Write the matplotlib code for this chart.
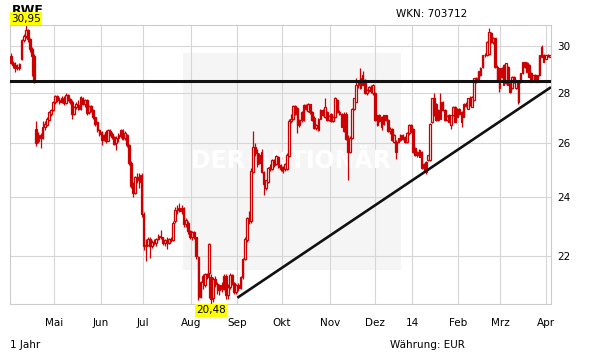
import numpy as np
import matplotlib
matplotlib.use("Agg")
import matplotlib.pyplot as plt
from matplotlib.patches import Rectangle
from matplotlib.ticker import FixedLocator, FixedFormatter, NullLocator

# --- RWE Tageskerzen, ca. Apr 2013 - Apr 2014 ---
opens = [
    29.55, 29.25, 29.15, 29.05, 29.05, 29.45, 30.25, 30.45, 30.70, 30.30,
    29.85, 29.55, 26.55, 26.05, 26.30, 26.20, 26.60, 26.70, 26.90, 27.15,
    27.30, 27.62, 27.85, 27.70, 27.62, 27.80, 27.58, 27.90, 27.75, 27.62,
    27.15, 27.40, 27.50, 27.35, 27.80, 27.55, 27.68, 27.20, 27.45, 27.30,
    27.00, 26.80, 26.50, 26.40, 26.12, 26.42, 26.08, 26.45, 26.35, 26.22,
    25.98, 26.20, 26.25, 26.48, 26.20, 26.30, 25.90, 25.25, 24.40, 24.15,
    24.70, 24.55, 24.80, 23.40, 22.30, 22.35, 22.55, 22.30, 22.45, 22.40,
    22.55, 22.65, 22.60, 22.40, 22.50, 22.40, 22.55, 22.50, 23.15, 23.55,
    23.62, 23.50, 23.62, 23.05, 23.10, 22.80, 22.62, 22.78, 22.60, 21.95,
    20.70, 21.15, 21.05, 21.40, 21.45, 21.30, 20.65, 21.25, 21.10, 20.90,
    21.05, 20.95, 21.35, 20.75, 21.00, 21.38, 21.12, 20.85, 21.05, 20.98,
    21.30, 21.88, 22.50, 23.25, 23.15, 24.90, 25.85, 25.60, 25.25, 25.65,
    24.90, 24.30, 24.55, 25.05, 25.00, 25.35, 25.20, 25.45, 25.15, 24.92,
    25.00, 25.00, 25.50, 26.85, 26.95, 27.45, 27.38, 26.70, 26.90, 26.90,
    27.48, 27.25, 27.52, 27.22, 26.98, 26.58, 26.50, 26.95, 27.28, 27.02,
    27.22, 26.90, 27.12, 26.85, 27.02, 27.70, 27.22, 27.15, 26.45, 27.15,
    26.10, 25.65, 26.18, 27.35, 27.63, 28.32, 28.20, 28.75, 28.53, 27.97,
    28.10, 28.25, 27.97, 27.97, 26.69, 27.08, 27.02, 26.75, 27.08, 26.88,
    26.44, 26.55, 26.04, 26.04, 26.04, 26.10, 26.30, 26.23, 26.04, 26.36,
    26.69, 26.55, 25.78, 25.52, 25.71, 25.65, 25.03, 25.27, 25.33, 25.33,
    26.82, 27.76, 27.55, 26.88, 26.95, 27.62, 27.29, 26.88, 27.08, 26.69,
    27.08, 27.42, 27.02, 27.35, 27.22, 27.02, 27.55, 27.35, 27.76, 27.42,
    27.70, 28.60, 28.53, 29.04, 29.10, 29.60, 29.60, 29.67, 30.57, 30.19,
    30.34, 29.10, 28.18, 29.04, 28.32, 28.39, 29.10, 28.46, 28.18, 28.67,
    28.18, 28.46, 28.46, 28.81, 29.30, 29.24, 29.17, 28.81, 28.53, 28.74,
    28.74, 28.74, 29.53, 29.60, 29.45, 29.60, 29.53,
]
highs = [
    29.70, 29.35, 29.30, 29.20, 29.25, 30.30, 30.55, 30.95, 30.75, 30.35,
    29.95, 29.65, 26.85, 26.40, 26.38, 26.85, 26.85, 27.00, 27.25, 27.35,
    27.65, 27.90, 27.90, 27.82, 27.85, 27.85, 27.98, 27.95, 27.80, 27.68,
    27.45, 27.60, 27.68, 27.88, 27.82, 27.75, 27.72, 27.48, 27.50, 27.35,
    27.02, 26.85, 26.55, 26.45, 26.35, 26.48, 26.55, 26.52, 26.40, 26.28,
    26.25, 26.38, 26.55, 26.52, 26.45, 26.35, 25.95, 25.30, 24.55, 24.75,
    24.85, 24.85, 24.85, 23.45, 22.55, 22.60, 22.60, 22.50, 22.55, 22.58,
    22.70, 22.84, 22.62, 22.55, 22.60, 22.58, 22.60, 23.15, 23.65, 23.70,
    23.78, 23.70, 23.65, 23.25, 23.15, 22.85, 22.82, 22.80, 22.62, 22.00,
    21.20, 21.40, 21.45, 21.45, 22.42, 21.40, 21.30, 21.35, 21.15, 21.10,
    21.15, 21.40, 21.40, 21.10, 21.45, 21.42, 21.15, 21.10, 21.12, 21.35,
    21.92, 22.60, 23.30, 23.50, 25.05, 26.45, 26.00, 25.75, 25.60, 25.75,
    24.95, 24.62, 25.08, 25.20, 25.38, 25.40, 25.55, 25.50, 25.20, 25.12,
    25.25, 25.60, 26.95, 27.12, 27.50, 27.48, 27.42, 26.95, 27.25, 27.52,
    27.55, 27.58, 27.55, 27.25, 27.05, 26.75, 26.98, 27.32, 27.35, 27.76,
    27.25, 27.10, 27.18, 27.05, 27.82, 27.75, 27.30, 27.18, 27.22, 27.20,
    26.30, 26.25, 27.38, 27.80, 28.60, 28.50, 29.04, 28.90, 28.58, 28.15,
    28.28, 28.30, 28.35, 28.02, 27.10, 27.12, 27.05, 27.10, 27.10, 26.92,
    26.60, 26.58, 26.32, 26.10, 26.20, 26.32, 26.35, 26.25, 26.40, 26.72,
    26.72, 26.58, 25.82, 25.70, 25.75, 25.68, 25.25, 25.30, 25.55, 26.78,
    27.78, 27.97, 27.58, 27.35, 27.97, 27.65, 27.32, 27.10, 27.12, 27.10,
    27.45, 27.45, 27.38, 27.38, 27.25, 27.58, 27.62, 27.80, 27.85, 27.86,
    28.62, 28.65, 28.92, 29.08, 29.62, 29.70, 30.22, 30.82, 30.62, 30.40,
    30.38, 29.15, 29.06, 29.10, 29.20, 29.26, 29.14, 28.50, 28.70, 28.70,
    28.55, 28.50, 28.83, 29.32, 29.32, 29.28, 29.20, 28.85, 28.76, 28.78,
    28.76, 29.62, 30.03, 29.65, 29.62, 29.65, 29.62,
]
lows = [
    29.20, 29.05, 28.85, 28.95, 28.95, 29.40, 30.20, 30.35, 30.20, 29.75,
    28.70, 28.40, 25.88, 25.98, 25.80, 26.15, 26.50, 26.65, 26.85, 27.05,
    27.25, 27.55, 27.60, 27.52, 27.58, 27.50, 27.55, 27.65, 27.55, 26.95,
    27.10, 27.35, 27.30, 27.30, 27.48, 27.40, 27.10, 27.15, 27.20, 26.92,
    26.65, 26.42, 26.25, 25.90, 26.05, 26.00, 26.05, 26.28, 26.15, 25.90,
    25.72, 26.02, 26.20, 26.10, 26.10, 25.85, 25.15, 24.30, 24.00, 24.10,
    24.50, 24.30, 23.30, 22.20, 21.83, 22.30, 21.93, 22.25, 22.35, 22.30,
    22.50, 22.55, 22.35, 22.30, 22.22, 22.38, 22.45, 22.48, 23.10, 23.40,
    23.45, 23.40, 22.95, 22.95, 22.70, 22.55, 22.50, 22.55, 21.90, 20.60,
    20.65, 20.95, 21.00, 21.25, 20.65, 20.48, 20.55, 21.00, 20.80, 20.75,
    20.85, 20.90, 20.62, 20.62, 20.95, 21.05, 20.80, 20.78, 20.88, 20.95,
    21.25, 21.85, 22.45, 23.05, 23.10, 24.85, 25.50, 25.10, 25.20, 24.85,
    24.07, 24.25, 24.50, 24.95, 24.98, 25.10, 25.15, 25.05, 24.95, 24.88,
    24.95, 24.98, 25.45, 26.78, 26.90, 27.08, 26.36, 26.60, 26.80, 26.85,
    27.30, 27.20, 27.15, 26.85, 26.52, 26.48, 26.45, 26.92, 27.05, 26.98,
    26.85, 26.85, 26.80, 26.80, 26.98, 27.18, 27.10, 26.60, 26.40, 26.10,
    24.60, 25.60, 26.15, 27.30, 27.60, 28.20, 28.15, 28.30, 27.95, 27.92,
    28.02, 28.00, 27.92, 26.85, 26.65, 26.80, 26.50, 26.70, 26.85, 26.40,
    26.35, 26.05, 26.00, 25.40, 26.00, 26.05, 26.10, 26.00, 26.00, 26.30,
    26.40, 25.62, 25.50, 25.45, 25.45, 25.00, 24.95, 24.84, 25.30, 25.30,
    26.78, 27.05, 26.85, 26.85, 26.92, 27.25, 26.85, 26.85, 26.80, 26.55,
    27.05, 26.80, 27.00, 27.10, 26.62, 27.00, 27.40, 27.32, 27.45, 27.40,
    27.68, 28.40, 28.50, 28.72, 29.05, 29.50, 29.55, 29.62, 30.15, 30.10,
    29.05, 28.50, 28.04, 28.60, 28.30, 28.35, 28.30, 27.97, 28.15, 28.40,
    28.15, 27.55, 28.42, 28.78, 29.05, 28.85, 28.65, 28.45, 28.50, 28.50,
    28.44, 28.70, 29.50, 29.30, 29.42, 29.50, 29.50,
]
closes = [
    29.25, 29.15, 29.05, 29.10, 29.20, 30.25, 30.45, 30.70, 30.30, 29.85,
    29.55, 28.45, 26.00, 26.30, 26.18, 26.60, 26.75, 26.95, 27.20, 27.30,
    27.60, 27.85, 27.70, 27.60, 27.80, 27.58, 27.90, 27.72, 27.60, 27.15,
    27.40, 27.55, 27.35, 27.82, 27.55, 27.70, 27.18, 27.45, 27.25, 27.00,
    26.72, 26.50, 26.32, 26.12, 26.30, 26.05, 26.48, 26.35, 26.22, 25.95,
    26.20, 26.30, 26.50, 26.15, 26.38, 25.90, 25.25, 24.40, 24.15, 24.70,
    24.60, 24.80, 23.40, 22.30, 22.35, 22.55, 22.30, 22.45, 22.40, 22.55,
    22.65, 22.60, 22.40, 22.50, 22.40, 22.55, 22.50, 23.10, 23.55, 23.62,
    23.50, 23.60, 23.05, 23.20, 22.80, 22.62, 22.78, 22.60, 21.98, 20.70,
    21.15, 21.35, 21.40, 21.30, 22.38, 20.62, 21.25, 21.10, 20.90, 21.05,
    20.95, 21.35, 20.75, 21.00, 21.38, 21.12, 20.85, 21.05, 20.98, 21.30,
    21.88, 22.55, 23.25, 23.15, 24.95, 25.85, 25.60, 25.20, 25.55, 24.90,
    24.45, 24.60, 25.05, 25.10, 25.35, 25.15, 25.50, 25.10, 25.00, 25.10,
    25.20, 25.55, 26.85, 26.95, 27.45, 27.15, 26.70, 26.90, 27.20, 27.48,
    27.35, 27.52, 27.22, 26.90, 26.58, 26.70, 26.95, 27.28, 27.10, 27.40,
    26.90, 27.05, 26.85, 27.00, 27.78, 27.22, 27.15, 26.62, 27.15, 26.15,
    25.65, 26.18, 27.35, 27.77, 28.32, 28.45, 28.60, 28.32, 27.97, 28.10,
    28.25, 28.05, 28.32, 26.88, 27.08, 26.85, 26.62, 27.08, 26.90, 26.44,
    26.55, 26.10, 26.30, 25.65, 26.17, 26.30, 26.15, 26.04, 26.36, 26.69,
    26.43, 25.65, 25.52, 25.65, 25.46, 25.03, 25.20, 24.90, 25.52, 26.75,
    27.76, 27.08, 26.88, 27.30, 27.62, 27.30, 26.88, 27.05, 26.82, 27.08,
    27.42, 26.82, 27.35, 27.15, 26.82, 27.55, 27.45, 27.76, 27.50, 27.83,
    28.60, 28.50, 28.90, 28.75, 29.60, 29.62, 30.20, 30.64, 30.19, 30.34,
    29.10, 28.53, 29.04, 28.65, 29.17, 29.24, 28.32, 28.04, 28.67, 28.45,
    28.53, 27.63, 28.81, 29.30, 29.10, 28.88, 28.67, 28.46, 28.74, 28.55,
    28.46, 29.60, 29.96, 29.31, 29.60, 29.55, 29.60,
]

# Monatsanfänge (Kerzen-Index) und Beschriftung
month_pos = [20.3, 42.6, 62.5, 85.4, 107.5, 128.7, 151.7, 172.8, 190.7, 212.4, 232.5, 254.1]
month_labels = ["Mai", "Jun", "Jul", "Aug", "Sep", "Okt", "Nov", "Dez", "14", "Feb", "Mrz", "Apr"]
y_ticks = [22, 24, 26, 28, 30]

# eingezeichnete Linien
resistance = 28.47
trend_x = [107.5, 256.5]
trend_y = [20.67, 28.23]

red = "#cc0000"

fig = plt.figure(figsize=(6.11, 3.64), dpi=100)
ax = fig.add_axes([10 / 611, 60 / 364, 541 / 611, 279 / 364])

n = len(closes)
x = np.arange(n)
o = np.array(opens)
c = np.array(closes)
up = c >= o
bottom = np.minimum(o, c)
height = np.maximum(np.abs(c - o), 0.02)

# Hintergrund-Wasserzeichen
ax.add_patch(Rectangle((0.3198, 0.1219), 0.4029, 0.7777, transform=ax.transAxes,
                       facecolor="#f5f5f5", edgecolor="none", zorder=0.2))
ax.text(0.52, 0.512, "DER AKTIONÄR", transform=ax.transAxes, ha="center", va="center",
        fontsize=17, fontweight="bold", color="white", zorder=0.7)

# Kerzen
ax.vlines(x, lows, highs, color=red, lw=0.9, zorder=2)
ax.bar(x[up], height[up], bottom=bottom[up], width=0.78, facecolor="white",
       edgecolor=red, linewidth=0.9, zorder=3)
ax.bar(x[~up], height[~up], bottom=bottom[~up], width=0.78, facecolor=red,
       edgecolor=red, linewidth=0.9, zorder=3)

# Widerstand und Trendlinie
ax.axhline(resistance, color="#111111", lw=2.2, zorder=4)
ax.plot(trend_x, trend_y, color="#111111", lw=1.9, zorder=4, solid_capstyle="butt")

ax.set_yscale("log")
ax.set_xlim(-0.5, n - 0.5)
ax.set_ylim(min(lows), max(highs))

ax.yaxis.set_major_locator(FixedLocator(y_ticks))
ax.yaxis.set_major_formatter(FixedFormatter([str(v) for v in y_ticks]))
ax.yaxis.set_minor_locator(NullLocator())
ax.set_xticks(month_pos)
ax.set_xticklabels(month_labels)

ax.set_axisbelow(True)
ax.grid(True, color="#d6d6d6", lw=0.8)
ax.tick_params(axis="x", length=0, pad=10, labelsize=7.5)
ax.tick_params(axis="y", which="both", length=0, pad=4.5, labelsize=7.5,
               left=False, right=True, labelleft=False, labelright=True)
for s in ax.spines.values():
    s.set_color("#cccccc")
    s.set_linewidth(0.8)

# Hoch / Tief markieren
i_hi = int(np.argmax(highs))
i_lo = int(np.argmin(lows))
box = dict(boxstyle="square,pad=0.12", facecolor="#ffff00", edgecolor="none")
ax.annotate(f"{max(highs):.2f}".replace(".", ","), xy=(i_hi, max(highs)), xytext=(0, 1),
            textcoords="offset points", ha="center", va="bottom", fontsize=7.5,
            bbox=box, annotation_clip=False, zorder=6)
ax.annotate(f"{min(lows):.2f}".replace(".", ","), xy=(i_lo, min(lows)), xytext=(0, -1),
            textcoords="offset points", ha="center", va="top", fontsize=7.5,
            bbox=box, annotation_clip=False, zorder=6)

# Beschriftungen
ax.text(12 / 611, 1 - 4 / 364, "RWE", transform=fig.transFigure, ha="left", va="top",
        fontsize=9, fontweight="bold", zorder=5, clip_on=False)
fig.text(396 / 611, 1 - 14 / 364, "WKN: 703712", ha="left", va="center", fontsize=7.5)
fig.text(10 / 611, 1 - 345 / 364, "1 Jahr", ha="left", va="center", fontsize=7.5)
fig.text(390 / 611, 1 - 345 / 364, "Währung: EUR", ha="left", va="center", fontsize=7.5)

fig.savefig("out.png", dpi=100)
